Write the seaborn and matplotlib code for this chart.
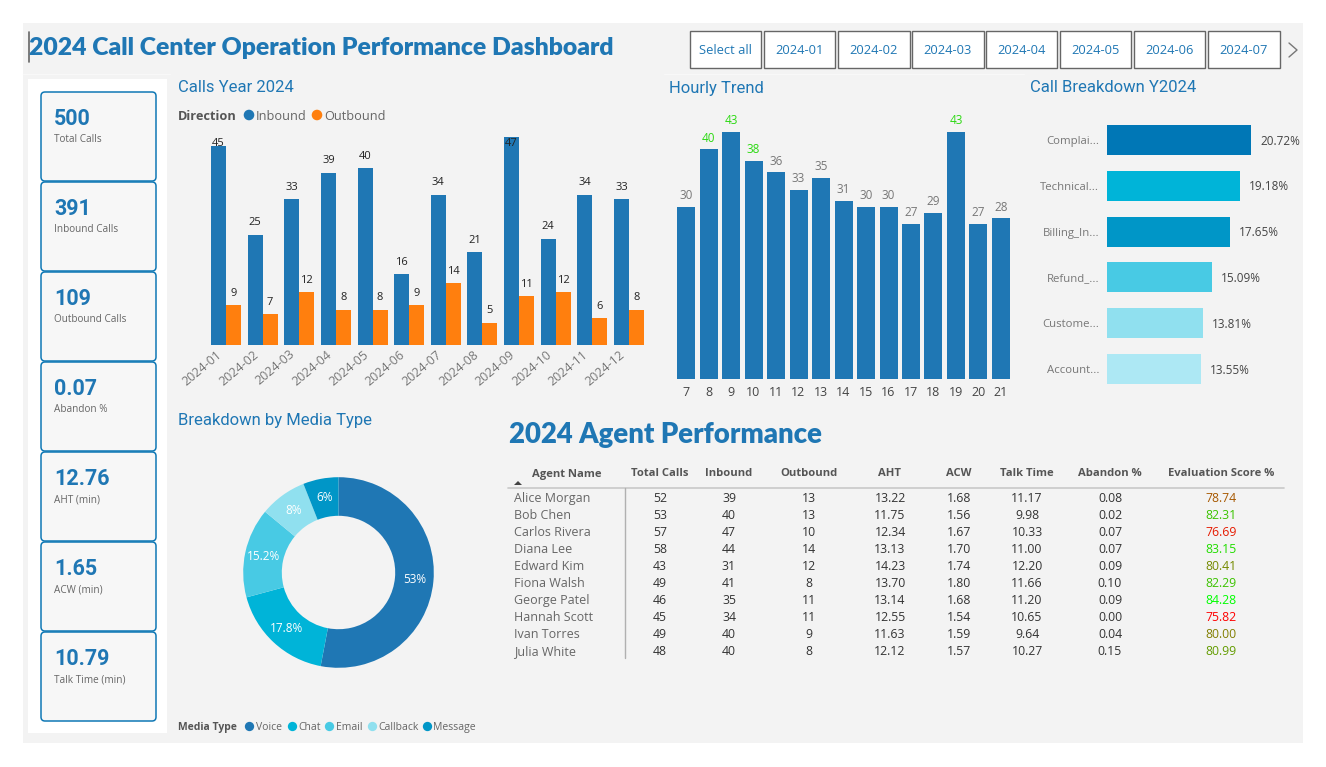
import matplotlib
matplotlib.use("Agg")
import matplotlib.pyplot as plt
import seaborn as sns
import pandas as pd
from matplotlib.colors import LinearSegmentedColormap, Normalize
from matplotlib.patches import FancyBboxPatch, Rectangle, Polygon
from matplotlib.transforms import ScaledTranslation

# Data
months = ["2024-01", "2024-02", "2024-03", "2024-04", "2024-05", "2024-06",
          "2024-07", "2024-08", "2024-09", "2024-10", "2024-11", "2024-12"]
inbound = [45, 25, 33, 39, 40, 16, 34, 21, 47, 24, 34, 33]
outbound = [9, 7, 12, 8, 8, 9, 14, 5, 11, 12, 6, 8]

hours = ["7", "8", "9", "10", "11", "12", "13", "14", "15", "16", "17", "18", "19", "20", "21"]
hourly_calls = [30, 40, 43, 38, 36, 33, 35, 31, 30, 30, 27, 29, 43, 27, 28]

call_types = ["Complai...", "Technical...", "Billing_In...", "Refund_...", "Custome...", "Account..."]
call_shares = [20.72, 19.18, 17.65, 15.09, 13.81, 13.55]

media_types = ["Voice", "Chat", "Email", "Callback", "Message"]
media_shares = [53, 17.8, 15.2, 8, 6]

kpi_values = ["500", "391", "109", "0.07", "12.76", "1.65", "10.79"]
kpi_labels = ["Total Calls", "Inbound Calls", "Outbound Calls", "Abandon %",
              "AHT (min)", "ACW (min)", "Talk Time (min)"]

slicer_labels = ["Select all", "2024-01", "2024-02", "2024-03", "2024-04", "2024-05", "2024-06", "2024-07"]

table_headers = ["Agent Name", "Total Calls", "Inbound", "Outbound", "AHT", "ACW",
                 "Talk Time", "Abandon %", "Evaluation Score %"]
agents = ["Alice Morgan", "Bob Chen", "Carlos Rivera", "Diana Lee", "Edward Kim",
          "Fiona Walsh", "George Patel", "Hannah Scott", "Ivan Torres", "Julia White"]
agent_total = [52, 53, 57, 58, 43, 49, 46, 45, 49, 48]
agent_inbound = [39, 40, 47, 44, 31, 41, 35, 34, 40, 40]
agent_outbound = [13, 13, 10, 14, 12, 8, 11, 11, 9, 8]
agent_aht = [13.22, 11.75, 12.34, 13.13, 14.23, 13.70, 13.14, 12.55, 11.63, 12.12]
agent_acw = [1.68, 1.56, 1.67, 1.70, 1.74, 1.80, 1.68, 1.54, 1.59, 1.57]
agent_talk = [11.17, 9.98, 10.33, 11.00, 12.20, 11.66, 11.20, 10.65, 9.64, 10.27]
agent_abandon = [0.08, 0.02, 0.07, 0.07, 0.09, 0.10, 0.09, 0.00, 0.04, 0.15]
agent_score = [78.74, 82.31, 76.69, 83.15, 80.41, 82.29, 84.28, 75.82, 80.00, 80.99]

# Style
BLUE = "#1F77B4"
ORANGE = "#FF7F0E"
GREY = "#666666"
PANEL = "#F3F3F3"
type_colors = ["#0077B6", "#00B4D8", "#0096C7", "#48CAE4", "#90E0EF", "#ADE8F4"]
media_colors = [BLUE, "#00B4D8", "#48CAE4", "#90E0EF", "#0096C7"]
UI_FONT = "Open Sans"
HEAD_FONT = "Roboto"

sns.set_theme(style="white")
plt.rcParams["font.family"] = [UI_FONT, "DejaVu Sans"]

W, H = 1326, 767
fig = plt.figure(figsize=(W / 100, H / 100), dpi=100, facecolor="white")


def px_axes(left, top, right, bottom, z=2):
    # axes placed with pixel coordinates of the picture
    ax = fig.add_axes([left / W, 1 - bottom / H, (right - left) / W, (bottom - top) / H], zorder=z)
    ax.patch.set_alpha(0)
    return ax


def clean(ax):
    sns.despine(ax=ax, left=True, bottom=True)
    ax.set_xlabel("")
    ax.set_ylabel("")
    ax.tick_params(length=0)


# Background layer, everything not a chart is drawn here
bg = px_axes(0, 0, W, H, z=1)
bg.set_xlim(0, W)
bg.set_ylim(H, 0)
bg.axis("off")
bg.add_patch(Rectangle((23, 23), 1280, 720, fc=PANEL, ec="none"))
bg.add_patch(Rectangle((28, 79), 139, 654, fc="white", ec="none"))
bg.plot([23, 170], [74, 74], color="#F8F8F8", lw=1)
bg.plot([664, 1024], [74, 74], color="#F8F8F8", lw=1)

bg.plot([28.5, 28.5], [32, 62], color="#666666", lw=1.2)
bg.text(29, 48, "2024 Call Center Operation Performance Dashboard", color=BLUE, fontsize=17.85,
        fontweight="heavy", family="Lato", va="center")
bg.text(509, 435.5, "2024 Agent Performance", color=BLUE, fontsize=19.8, fontweight="heavy",
        family="Lato", va="center")


def chart_title(x, y, s):
    bg.text(x, y, s, color=BLUE, fontsize=12, family=HEAD_FONT, va="center")


chart_title(178, 88, "Calls Year 2024")
chart_title(669, 88, "Hourly Trend")
chart_title(1030, 87, "Call Breakdown Y2024")
chart_title(178, 421, "Breakdown by Media Type")

# KPI cards
for i, (val, lab) in enumerate(zip(kpi_values, kpi_labels)):
    top = 92 + i * 90
    bg.add_patch(FancyBboxPatch((41, top), 115, 89, boxstyle="round,pad=0,rounding_size=4",
                                fc="#F7F7F7", ec="#0F78B5", lw=1.1))
    bg.text(54, top + 27, val, color=BLUE, fontsize=15.5, fontweight="bold", family=HEAD_FONT, va="center")
    bg.text(54, top + 48, lab, color=GREY, fontsize=7.2, va="center")

# Slicer buttons
btn_left = [690, 764, 838, 912, 986, 1060, 1134, 1208]
btn_right = [761, 835, 910, 984, 1057, 1131, 1205, 1280]
for lab, l, r in zip(slicer_labels, btn_left, btn_right):
    bg.add_patch(Rectangle((l, 31), r - l, 36.5, fc="white", ec="#666666", lw=1))
    bg.text((l + r) / 2, 51, lab, color=BLUE, fontsize=9.3, ha="center", va="center")
bg.plot([1289, 1297, 1289], [43, 50, 57], color="#777777", lw=1)

# Calls per month
df_month = pd.DataFrame({"month": months, "Inbound": inbound, "Outbound": outbound})
df_month = df_month.melt(id_vars="month", var_name="direction", value_name="calls")
ax1 = px_axes(207.7, 125, 647.3, 345)
sns.barplot(data=df_month, x="month", y="calls", hue="direction", palette=[BLUE, ORANGE], saturation=1,
            width=0.82, gap=0, linewidth=0, legend=False, ax=ax1)
ax1.set_xlim(-0.5, 11.5)
ax1.set_ylim(0, 220 / 4.42)
clean(ax1)
ax1.set_yticks([])
ax1.tick_params(axis="x", pad=2)
plt.setp(ax1.get_xticklabels(), rotation=40, ha="right", rotation_mode="anchor", color="#777777", fontsize=9)
# labels sit left of the group centre in the reference
shift = ScaledTranslation(-10 / 100, 0, fig.dpi_scale_trans)
for lab in ax1.get_xticklabels():
    lab.set_transform(lab.get_transform() + shift)
for cont in ax1.containers:
    for bar in cont:
        h = bar.get_height()
        ax1.text(bar.get_x() + bar.get_width() / 2, min(h + 2.7, 45.7), f"{h:.0f}", ha="center", va="center",
                 fontsize=8, color="#222222", clip_on=False)

bg.text(178, 116, "Direction", color="#555555", fontsize=9.2, fontweight="bold", va="center")
bg.scatter([249, 317], [115, 115], s=58, color=[BLUE, ORANGE], linewidths=0)
bg.text(256, 116, "Inbound", color=GREY, fontsize=9.2, va="center")
bg.text(324, 116, "Outbound", color=GREY, fontsize=9.2, va="center")

# Hourly trend
df_hour = pd.DataFrame({"hour": hours, "calls": hourly_calls})
ax2 = px_axes(674.75, 110, 1012.25, 379)
sns.barplot(data=df_hour, x="hour", y="calls", color=BLUE, saturation=1, width=0.8, linewidth=0, ax=ax2)
ax2.set_xlim(-0.5, 14.5)
ax2.set_ylim(0, 269 / 5.74)
clean(ax2)
ax2.set_yticks([])
ax2.tick_params(axis="x", pad=5, labelsize=9, labelcolor="#444444")
for bar, v in zip(ax2.containers[0], hourly_calls):
    ax2.text(bar.get_x() + bar.get_width() / 2, v + 1.95, str(v), ha="center", va="center", fontsize=8.5,
             color="#2BD911" if v >= 38 else "#777777")

# Call breakdown
df_type = pd.DataFrame({"type": call_types, "share": call_shares})
ax3 = px_axes(1107, 117.1, 1303, 391.9)
sns.barplot(data=df_type, y="type", x="share", hue="type", palette=type_colors, saturation=1,
            width=0.655, linewidth=0, legend=False, ax=ax3)
ax3.set_xlim(0, 196 / 6.95)
ax3.set_ylim(5.5, -0.5)
clean(ax3)
ax3.set_xticks([])
ax3.tick_params(axis="y", pad=5.5, labelsize=8.2, labelcolor="#777777")
for cont in ax3.containers:
    for t in ax3.bar_label(cont, fmt="%.2f%%", padding=6.5, fontsize=8.5, color="#444444"):
        t.xyann = (t.xyann[0], -0.8)

# Media donut
ax4 = px_axes(338.5 - 95.3, 572.5 - 95.3, 338.5 + 95.3, 572.5 + 95.3)
ax4.pie(media_shares, colors=media_colors, startangle=90, counterclock=False,
        wedgeprops={"width": 0.405, "linewidth": 0}, autopct=lambda p: f"{p:.3g}%", pctdistance=0.8,
        textprops={"color": "white", "fontsize": 8.5})
ax4.set_xlim(-1, 1)
ax4.set_ylim(-1, 1)

bg.text(178, 730, "Media Type", color="#555555", fontsize=7.5, fontweight="bold", va="baseline")
for name, c, xd, xt in zip(media_types, media_colors, [249, 292, 329, 372, 427], [256, 298, 336, 378, 433]):
    bg.scatter([xd], [726], s=45, color=c, linewidths=0)
    bg.text(xt, 730, name, color=GREY, fontsize=7.5, va="baseline")

# Agent table
col_x = [567, 660, 729, 809, 890, 959, 1027, 1110, 1221]
for x, head in zip(col_x, table_headers):
    bg.text(x, 474, head, color="#555555", fontsize=8.1, fontweight="bold", ha="center", va="center")
bg.add_patch(Polygon([[514, 485], [522, 485], [518, 481]], fc="#444444", ec="none"))
bg.plot([508, 1284], [487.7, 487.7], color="#C8C8C8", lw=1.2)
bg.plot([625, 625], [488, 658], color="#B0B0B0", lw=1)

score_cmap = LinearSegmentedColormap.from_list("score", ["#FF0000", "#00FF00"])
score_norm = Normalize(min(agent_score), max(agent_score))
for i, name in enumerate(agents):
    y = 498.7 + i * 17
    bg.text(514, y, name, color=GREY, fontsize=9, va="center")
    cells = [f"{agent_total[i]}", f"{agent_inbound[i]}", f"{agent_outbound[i]}", f"{agent_aht[i]:.2f}",
             f"{agent_acw[i]:.2f}", f"{agent_talk[i]:.2f}", f"{agent_abandon[i]:.2f}"]
    for x, cell in zip(col_x[1:], cells):
        bg.text(x, y, cell, color="#333333", fontsize=8.8, ha="center", va="center")
    bg.text(col_x[8], y, f"{agent_score[i]:.2f}", color=score_cmap(score_norm(agent_score[i])),
            fontsize=8.8, ha="center", va="center")

fig.savefig("out.png", dpi=100, facecolor="white")
